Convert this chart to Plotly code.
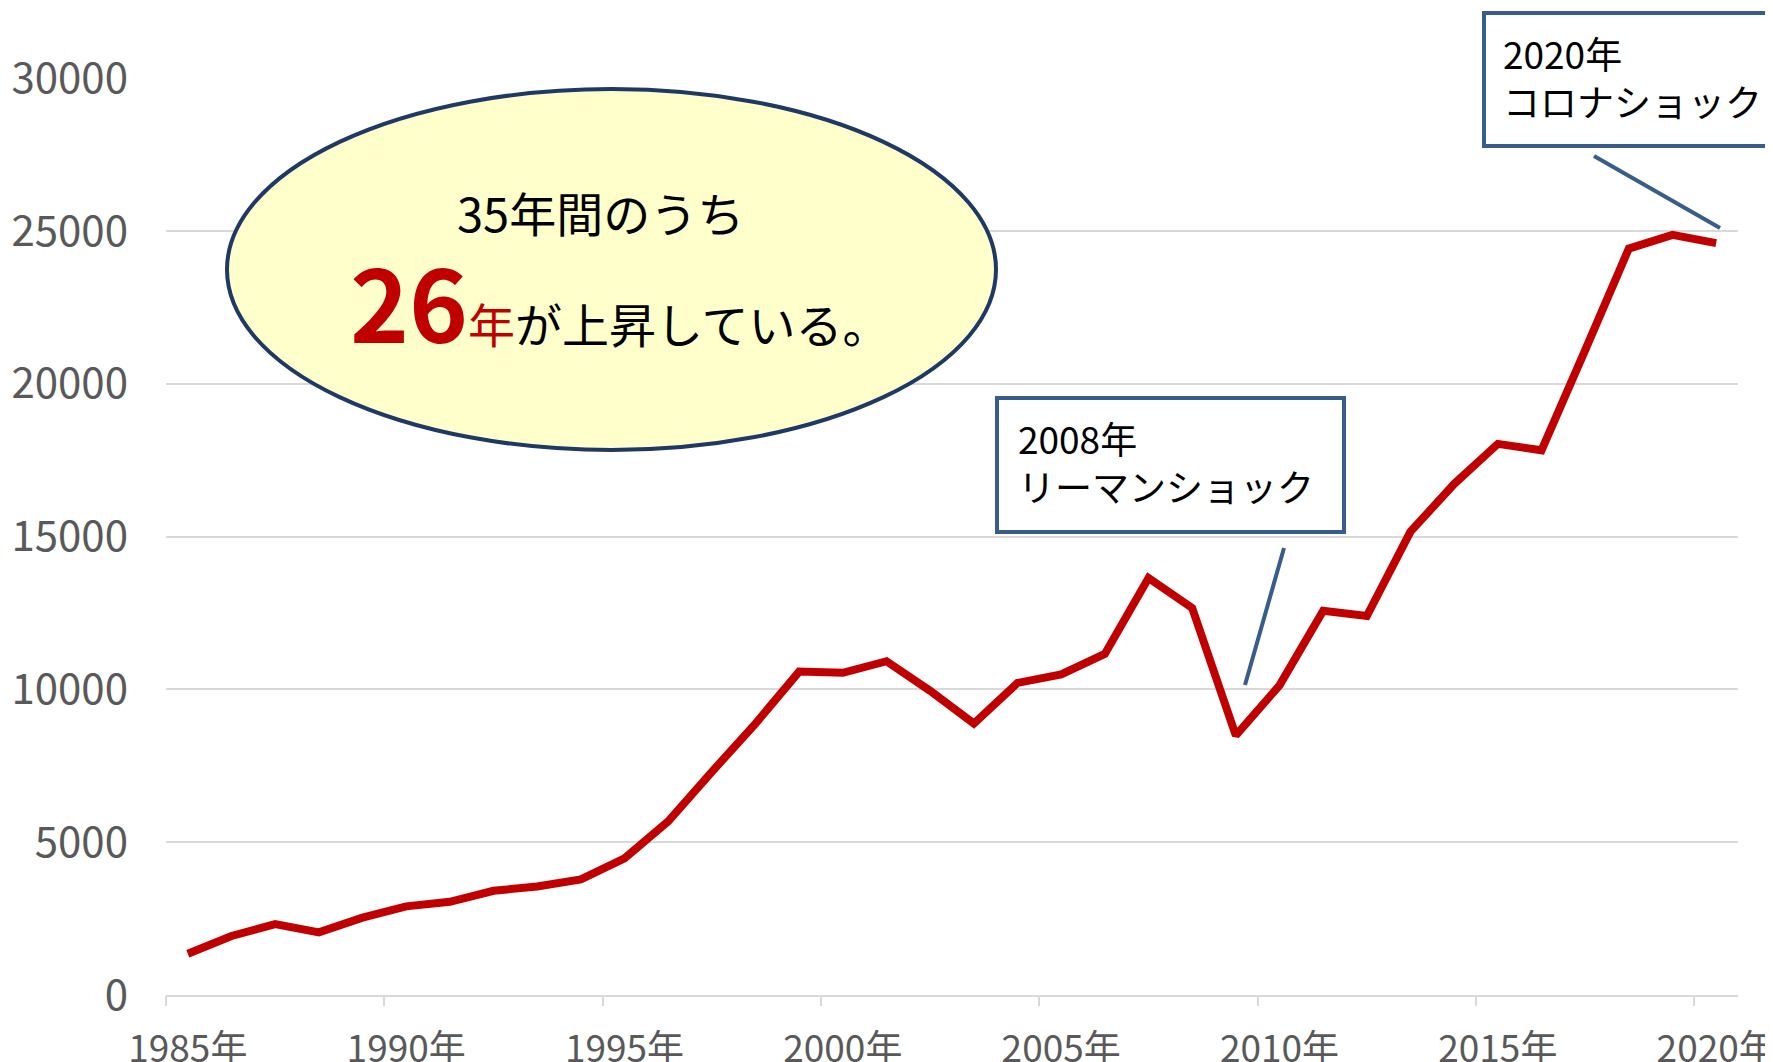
import plotly.graph_objects as go

# data
years = list(range(1985, 2021))
values = [1350, 1930, 2320, 2050, 2530, 2900, 3050, 3410, 3550, 3780,
          4470, 5680, 7300, 8880, 10580, 10540, 10920, 9950, 8880, 10210,
          10490, 11160, 13640, 12660, 8490, 10130, 12570, 12400, 15160, 16720,
          18030, 17820, 21100, 24420, 24870, 24600]

label_years = [1985, 1990, 1995, 2000, 2005, 2010, 2015, 2020]
label_text = [f"{y}年" for y in label_years]
y_ticks = [0, 5000, 10000, 15000, 20000, 25000, 30000]
y_text = [str(v) for v in y_ticks]

W, H = 1773, 1062
OFF = 8  # page body margin
# plot area in screen pixels: x 166..1738, y 78..995
L, T = 166 - OFF, 78 - OFF
R, B = W - (1738 - OFF), H - (995 - OFF)
FONT = "Noto Sans CJK JP"
RED = "#C00000"
BLUE = "#385D8A"
GRID = "#D9D9D9"


def px(x):
    return (x - OFF - L) / (W - L - R)


def py(y):
    return (H - B - (y - OFF)) / (H - T - B)


fig = go.Figure()
fig.add_trace(go.Scatter(
    x=years, y=values, mode="lines",
    line=dict(color=RED, width=8),
    hoverinfo="skip", showlegend=False,
))
# invisible trace so the tick-mark axis exists
fig.add_trace(go.Scatter(x=[years[0]], y=[0], xaxis="x2", mode="markers",
                         marker=dict(opacity=0), showlegend=False, hoverinfo="skip"))

fig.update_layout(
    width=W, height=H,
    margin=dict(l=L, r=R, t=T, b=B, autoexpand=False),
    paper_bgcolor="white", plot_bgcolor="white",
    font=dict(family=FONT, color="#595959", size=38),
    xaxis=dict(
        range=[years[0] - 0.5, years[-1] + 0.5],
        tickvals=label_years, ticktext=label_text, ticks="",
        showgrid=False, zeroline=False,
        showline=True, linecolor=GRID, linewidth=2,
        ticklabelstandoff=21, ticklabeloverflow="allow", automargin=False,
        tickfont=dict(size=37),
    ),
    xaxis2=dict(
        overlaying="x", matches="x", side="bottom",
        tickvals=[y - 0.5 for y in label_years],
        ticks="outside", ticklen=10, tickwidth=2, tickcolor=GRID,
        showticklabels=False, showgrid=False, zeroline=False, showline=False,
        automargin=False,
    ),
    yaxis=dict(
        range=[0, 30000], tickvals=y_ticks, ticktext=y_text,
        showgrid=True, gridcolor=GRID, gridwidth=2,
        zeroline=False, ticks="", ticklabelstandoff=37, automargin=False,
        tickfont=dict(size=42),
    ),
)

# ellipse callout
fig.add_shape(type="circle", xref="paper", yref="paper",
              x0=px(227), x1=px(996), y0=py(450), y1=py(89),
              fillcolor="#FFFFCC", line=dict(color="#1F3864", width=4))
fig.add_annotation(xref="paper", yref="paper", x=px(600), y=py(211),
                   xanchor="center", yanchor="middle",
                   text="35年間のうち", showarrow=False,
                   font=dict(family=FONT, size=47, color="black"))
fig.add_annotation(xref="paper", yref="paper", x=px(620), y=py(299),
                   xanchor="center", yanchor="middle",
                   text=f"<span style='font-size:100px;color:{RED}'><b>26</b></span>"
                        f"<span style='color:{RED}'>年</span>が上昇している。",
                   showarrow=False,
                   font=dict(family=FONT, size=47, color="black"))

# 2008 box
fig.add_shape(type="rect", xref="paper", yref="paper",
              x0=px(997), x1=px(1344), y0=py(532), y1=py(398),
              fillcolor="white", line=dict(color=BLUE, width=4))
fig.add_annotation(xref="paper", yref="paper", x=px(1016), y=py(462),
                   xanchor="left", yanchor="middle", align="left",
                   text="2008年<br>リーマンショック", showarrow=False,
                   font=dict(family=FONT, size=37, color="black"))
fig.add_shape(type="line", xref="paper", yref="paper",
              x0=px(1284), y0=py(548), x1=px(1245), y1=py(685),
              line=dict(color=BLUE, width=4))

# 2020 box
fig.add_shape(type="rect", xref="paper", yref="paper",
              x0=px(1484), x1=px(1800), y0=py(146), y1=py(13),
              fillcolor="white", line=dict(color=BLUE, width=4))
fig.add_annotation(xref="paper", yref="paper", x=px(1501), y=py(77),
                   xanchor="left", yanchor="middle", align="left",
                   text="2020年<br>コロナショック", showarrow=False,
                   font=dict(family=FONT, size=37, color="black"))
fig.add_shape(type="line", xref="paper", yref="paper",
              x0=px(1594), y0=py(156), x1=px(1720), y1=py(228),
              line=dict(color=BLUE, width=4))

fig.write_html("out.html")
